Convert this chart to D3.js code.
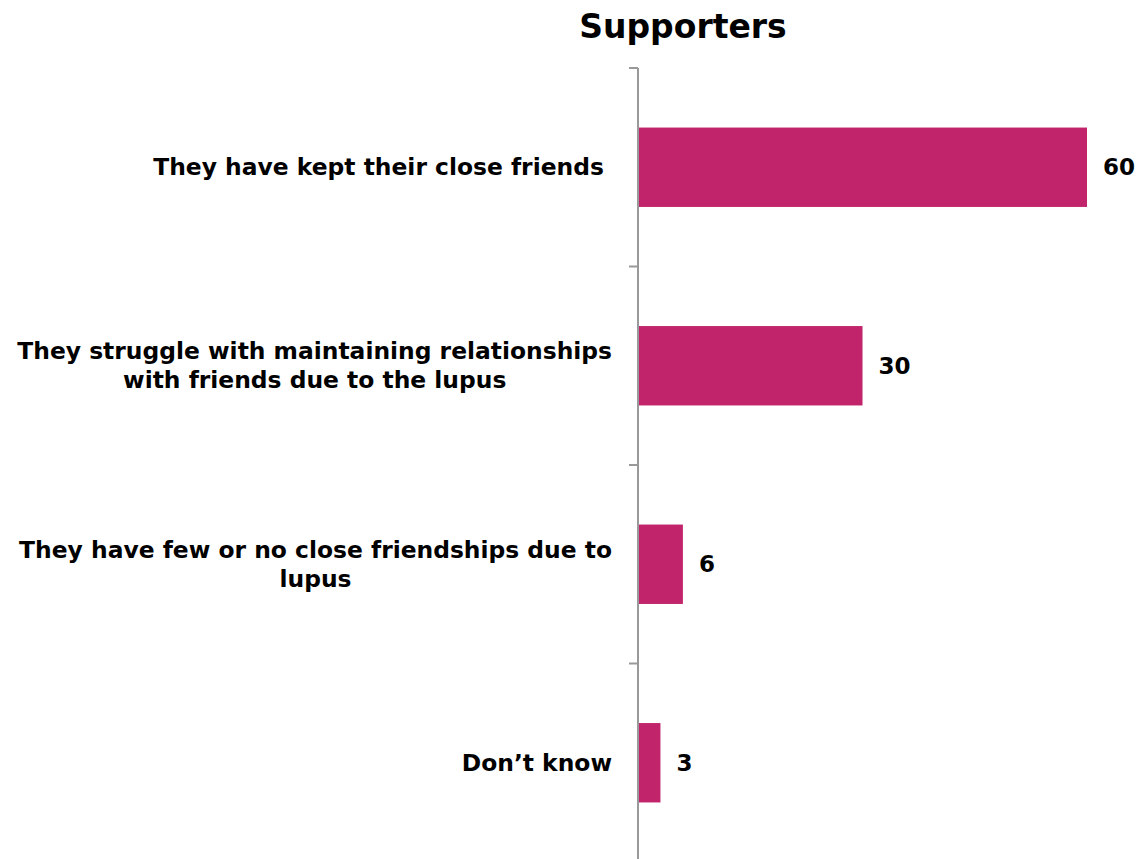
<!DOCTYPE html>
<html>
<head>
<meta charset="utf-8">
<script src="https://cdn.jsdelivr.net/npm/d3@7"></script>
<style>
  html, body { margin: 0; padding: 0; background: #fff; }
  svg { display: block; }
</style>
</head>
<body>
<svg id="chart" width="1139" height="859"></svg>
<script>
// Survey answers (supporters), percent of respondents
const categories = [
  "They have kept their close friends ",
  "They struggle with maintaining relationships\nwith friends due to the lupus",
  "They have few or no close friendships due to\nlupus",
  "Don\u2019t know"
];
const values = [60, 30, 6, 3];
const chartTitle = "Supporters";

const W = 1139, H = 859;
const axisX = 638;
const fontFamily = "'DejaVu Sans', Verdana, sans-serif";
const barColor = "#C1246A";
const labelSize = 23.4;
const lineGap = 29;
const labelRight = 612;
const labelMaxWidth = 600;

const svg = d3.select("#chart");

const x = d3.scaleLinear().domain([0, 60]).range([axisX, 1087]);
const y = d3.scaleBand()
  .domain(categories)
  .range([68, 862])
  .paddingInner(0.6)
  .paddingOuter(0.3);

// Title
svg.append("text")
  .attr("x", 683)
  .attr("y", 38)
  .attr("text-anchor", "middle")
  .style("font-family", fontFamily)
  .style("font-weight", "bold")
  .style("font-size", "33px")
  .style("fill", "#000")
  .text(chartTitle);

// Bars
svg.append("g").selectAll("rect")
  .data(values)
  .join("rect")
  .attr("x", x(0))
  .attr("y", (d, i) => y(categories[i]))
  .attr("width", d => x(d) - x(0))
  .attr("height", y.bandwidth())
  .attr("fill", barColor);

// Value labels
svg.append("g").selectAll("text")
  .data(values)
  .join("text")
  .attr("x", d => x(d) + 16)
  .attr("y", (d, i) => y(categories[i]) + y.bandwidth() / 2)
  .attr("dy", "0.35em")
  .style("font-family", fontFamily)
  .style("font-weight", "bold")
  .style("font-size", "23px")
  .style("fill", "#000")
  .text(d => d);

// Category axis: vertical line with ticks at band boundaries
const step = y.step();
const boundaries = d3.range(categories.length + 1).map(i => y.range()[0] + i * step);
const axisG = svg.append("g");
axisG.append("line")
  .attr("x1", axisX).attr("x2", axisX)
  .attr("y1", y.range()[0]).attr("y2", y.range()[1])
  .attr("stroke", "#999").attr("stroke-width", 2);
axisG.selectAll("line.tick")
  .data(boundaries)
  .join("line")
  .attr("class", "tick")
  .attr("x1", axisX - 9).attr("x2", axisX)
  .attr("y1", d => d).attr("y2", d => d)
  .attr("stroke", "#999").attr("stroke-width", 2);

// Category labels (multi-line labels centred as a block, right edge at labelRight)
const labelG = svg.append("g");
categories.forEach(cat => {
  const lines = cat.split("\n");
  const cy = y(cat) + y.bandwidth() / 2;
  const g = labelG.append("g");
  const t = g.append("text")
    .style("font-family", fontFamily)
    .style("font-weight", "bold")
    .style("font-size", labelSize + "px")
    .style("white-space", "pre")
    .style("fill", "#000");
  if (lines.length === 1) {
    t.attr("x", labelRight).attr("y", cy).attr("dy", "0.35em")
      .attr("text-anchor", "end").text(lines[0]);
  } else {
    const spans = lines.map((ln, i) => t.append("tspan")
      .attr("x", 0)
      .attr("y", cy + (i - (lines.length - 1) / 2) * lineGap)
      .attr("dy", "0.35em")
      .attr("text-anchor", "middle")
      .text(ln));
    const widest = d3.max(spans, s => s.node().getComputedTextLength());
    const k = Math.min(1, labelMaxWidth / widest);
    const blockW = widest * k;
    g.attr("transform", `translate(${labelRight - blockW / 2},0) scale(${k},1)`);
  }
});
</script>
</body>
</html>
